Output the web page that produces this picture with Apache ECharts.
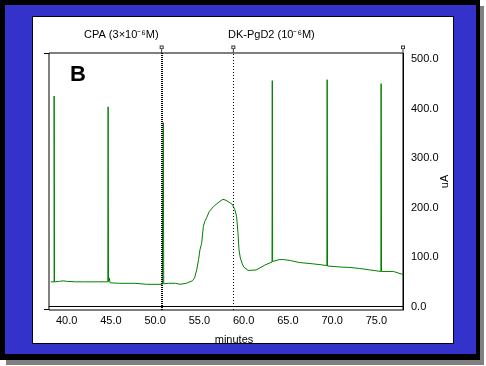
<!DOCTYPE html>
<html>
<head>
<meta charset="utf-8">
<script src="https://cdn.jsdelivr.net/npm/echarts@6/dist/echarts.min.js"></script>
<style>
html,body{margin:0;padding:0;background:#ffffff;}
#chart{width:486px;height:366px;}
</style>
</head>
<body>
<div id="chart"></div>
<script>
// ---- data ----
var minutes = [38.2, 38.4, 38.58, 38.58, 38.62, 39.2, 39.6, 40.0, 41.0, 42.0, 43.0, 44.65, 44.68, 44.72, 44.8, 44.9, 46.0, 47.7, 47.75, 49.0, 50.8, 50.9, 50.92, 50.96, 51.5, 52.3, 52.8, 53.5, 54.2, 54.45, 54.69, 54.9, 55.06, 55.25, 55.44, 55.6, 55.82, 56.1, 56.57, 57.1, 57.65, 58.0, 58.35, 58.7, 59.0, 59.2, 59.35, 59.47, 59.6, 59.8, 60.0, 60.5, 61.4, 62.4, 63.2, 63.23, 63.27, 64.0, 64.5, 65.3, 66.3, 67.5, 68.5, 69.4, 69.43, 69.47, 70.9, 72.0, 73.1, 74.3, 75.5, 75.53, 75.57, 76.9, 77.97];
var uA = [50, 50, 50, 426, 50, 51, 52, 51, 50, 50, 50, 50, 404, 50, 58, 48, 47, 47, 45, 45, 45, 45, 372, 46, 47, 47, 45, 47, 52, 58, 74, 95, 115, 128, 162, 172, 180, 192, 202, 210, 217, 215, 211, 207, 196, 182, 150, 115, 100, 88, 80, 73, 74, 84, 90, 457, 91, 95, 95, 93, 89, 87, 85, 83, 459, 82, 80, 79, 77, 74, 71, 451, 71, 71, 65];
var markerMinutes = [50.73, 58.83];          // CPA, DK-PgD2 additions
var markerLabels = ['CPA (3×10⁻⁶M)', 'DK-PgD2 (10⁻⁶M)'];
var xTicks = [40, 45, 50, 55, 60, 65, 70, 75];
var yTicks = [0, 100, 200, 300, 400, 500];
var xRange = [38, 78];
var yRange = [-7, 513];

var seriesData = minutes.map(function (m, i) { return [m, uA[i]]; });
var pinData = markerMinutes.concat([xRange[1]]).map(function (m) { return [m, yRange[1]]; });

var chart = echarts.init(document.getElementById('chart'), null, {renderer: 'canvas'});
var font = 'Liberation Sans, Arial, sans-serif';
var pinPath = 'path://M0,0 L4,0 L4,4 L0,4 Z M1,1 L1,3 L3,3 L3,1 Z M1.5,4 L2.5,4 L2.5,8 L1.5,8 Z';

chart.setOption({
  animation: false,
  backgroundColor: '#ffffff',
  graphic: [
    {type: 'rect', z: -20, silent: true, shape: {x: 6, y: 6, width: 478, height: 359}, style: {fill: '#808080'}},
    {type: 'rect', z: -19, silent: true, shape: {x: 0, y: 0, width: 480, height: 360}, style: {fill: '#000000'}},
    {type: 'rect', z: -18, silent: true, shape: {x: 5, y: 5, width: 471, height: 349}, style: {fill: '#3333cc'}},
    {type: 'rect', z: -17, silent: true, shape: {x: 32.5, y: 16.5, width: 421, height: 327}, style: {fill: '#ffffff', stroke: '#000000', lineWidth: 1}},
    {type: 'line', z: 5, silent: true, shape: {x1: 44, y1: 53.5, x2: 49, y2: 53.5}, style: {stroke: '#000', lineWidth: 1}},
    {type: 'line', z: 5, silent: true, shape: {x1: 44, y1: 309.5, x2: 49, y2: 309.5}, style: {stroke: '#000', lineWidth: 1}},
    {type: 'text', z: 5, silent: true, left: 84, top: 29, style: {text: markerLabels[0], font: '11px ' + font, fill: '#000'}},
    {type: 'text', z: 5, silent: true, left: 228, top: 29, style: {text: markerLabels[1], font: '11px ' + font, fill: '#000'}},
    {type: 'text', z: 5, silent: true, left: 70, top: 64, style: {text: 'B', font: 'bold 22px ' + font, fill: '#000'}}
  ],
  grid: {left: 49, right: 83, top: 53, bottom: 56, show: true, borderColor: '#000', borderWidth: 1, backgroundColor: 'transparent'},
  xAxis: {
    type: 'value', min: xRange[0], max: xRange[1],
    splitLine: {show: false},
    axisLine: {show: true, lineStyle: {color: '#000', width: 1}},
    axisTick: {show: false},
    axisLabel: {customValues: xTicks, color: '#000', fontSize: 11, fontFamily: font, margin: 5,
      formatter: function (v) { return v.toFixed(1); }},
    name: 'minutes', nameLocation: 'middle', nameGap: 24, nameMoveOverlap: false,
    nameTextStyle: {color: '#000', fontSize: 11, fontFamily: font, padding: [0, 0, 0, 16]}
  },
  yAxis: {
    type: 'value', position: 'right', min: yRange[0], max: yRange[1],
    splitLine: {show: false},
    axisLine: {show: true, lineStyle: {color: '#000', width: 1}},
    axisTick: {show: false},
    axisLabel: {customValues: yTicks, color: '#000', fontSize: 11, fontFamily: font, margin: 8,
      formatter: function (v) { return v.toFixed(1); }},
    name: 'uA', nameLocation: 'middle', nameGap: 36, nameRotate: 90, nameMoveOverlap: false,
    nameTextStyle: {color: '#000', fontSize: 11, fontFamily: font}
  },
  series: [
    {
      type: 'line', data: seriesData, showSymbol: false, symbol: 'none',
      lineStyle: {color: '#008000', width: 1}, z: 3,
      markLine: {
        silent: true, symbol: ['none', 'none'], label: {show: false},
        data: [
          {xAxis: markerMinutes[0], lineStyle: {color: '#000', width: 2, type: [1, 1]}},
          {xAxis: markerMinutes[1], lineStyle: {color: '#000', width: 1, type: [1, 2]}}
        ]
      }
    },
    {
      type: 'scatter', data: pinData, clip: false, silent: true,
      symbol: pinPath, symbolSize: [4, 7], symbolOffset: [0, -4],
      itemStyle: {color: '#000'}, z: 6
    }
  ]
});
</script>
</body>
</html>
